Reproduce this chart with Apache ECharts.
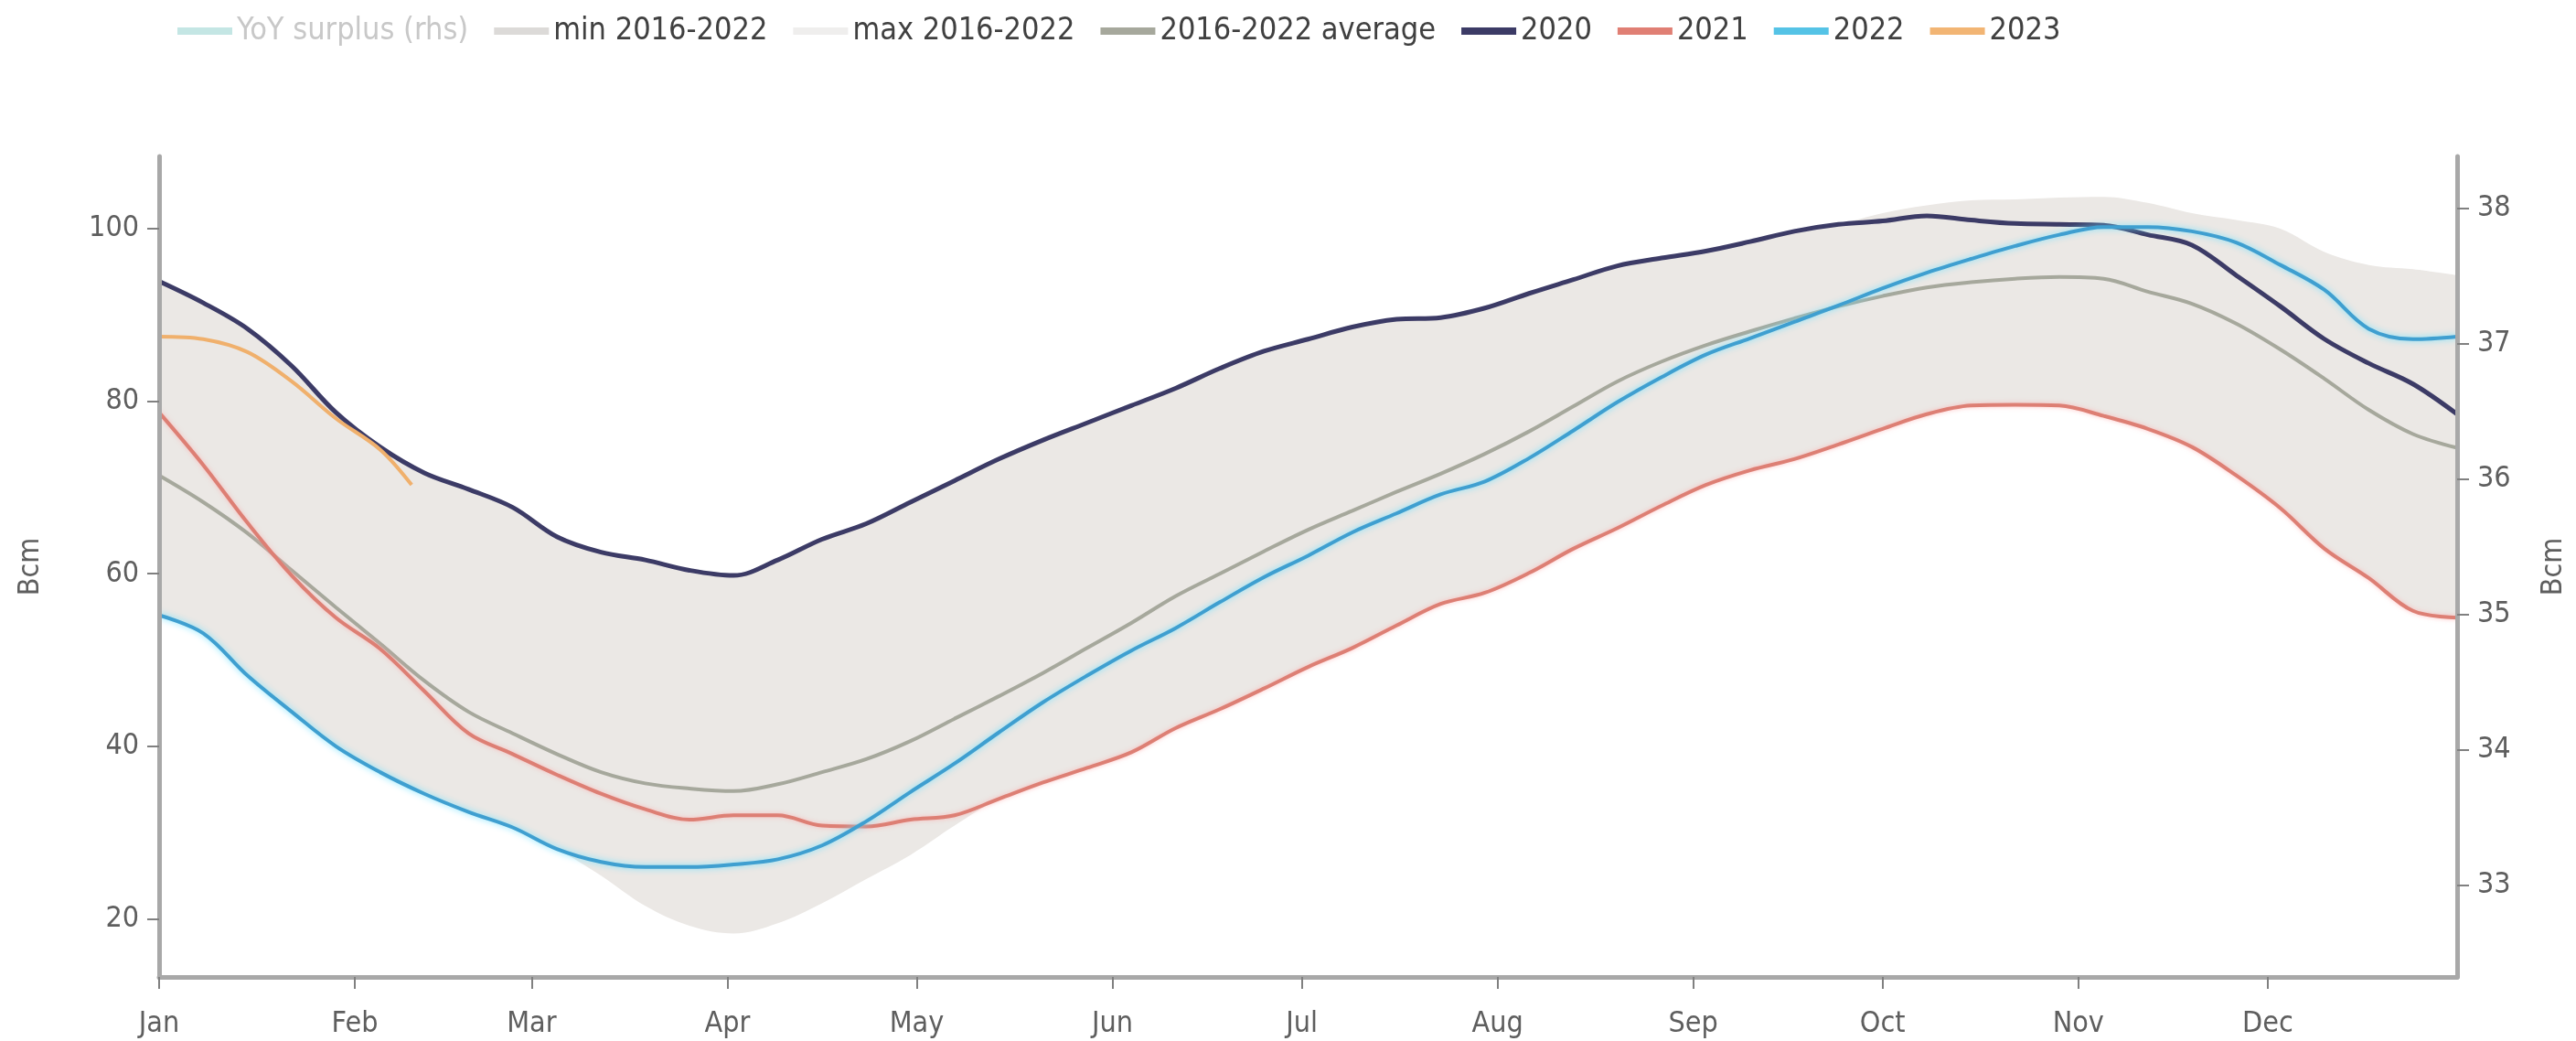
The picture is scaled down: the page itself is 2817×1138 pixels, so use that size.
<!DOCTYPE html>
<html>
<head>
<meta charset="utf-8">
<script src="https://cdn.jsdelivr.net/npm/echarts@6/dist/echarts.min.js"></script>
<style>
html,body{margin:0;padding:0;background:#fff;}
#chart{width:2817px;height:1138px;}
</style>
</head>
<body>
<div id="chart"></div>
<script>
// Day-of-year positions (Jan 1 = 0) of the sampled points
const days = [0,7,14,21,28,35,42,49,56,63,70,77,84,91,98,105,112,119,126,133,140,147,154,161,168,175,182,189,196,203,210,217,224,231,238,245,252,259,266,273,280,287,294,301,308,315,322,329,336,343,350,357,364];
const monthStarts = [0,31,59,90,120,151,181,212,243,273,304,334];
const monthLabels = ['Jan','Feb','Mar','Apr','May','Jun','Jul','Aug','Sep','Oct','Nov','Dec'];
const leftTicks = [20,40,60,80,100];
const rightTicks = [33,34,35,36,37,38];

const band_min = [55.2,53.1,48.2,44.0,40.0,37.0,34.5,32.4,30.6,28.1,25.0,21.5,19.2,18.3,19.5,
  21.8,24.6,27.4,30.8,33.9,35.8,37.5,39.3,42.1,44.3,46.7,49.2,51.4,54.0,56.5,
  57.8,60.1,62.9,65.3,67.9,70.3,72.0,73.3,75.0,76.8,78.5,79.5,79.6,79.5,78.3,
  76.8,74.7,71.4,67.6,62.9,59.5,55.7,54.9];
const band_max = [93.9,91.4,88.4,84.1,78.7,74.7,71.7,69.8,67.7,64.3,62.5,61.6,60.4,59.8,61.6,
  64.0,65.8,68.3,70.8,73.3,75.5,77.5,79.5,81.5,83.8,85.8,87.2,88.6,89.5,89.7,
  90.8,92.5,94.1,95.7,96.6,97.4,98.5,99.7,100.5,101.8,102.7,103.3,103.4,103.6,103.7,
  103.0,101.8,101.0,100.0,97.3,95.8,95.3,94.6];
const avg_2016_2022 = [71.4,68.3,64.7,60.4,56.1,51.9,47.6,44.0,41.5,39.1,37.0,35.7,35.1,34.8,35.6,
  37.0,38.5,40.6,43.2,45.8,48.5,51.4,54.3,57.4,60.0,62.6,65.1,67.3,69.5,71.6,
  73.9,76.5,79.4,82.3,84.6,86.5,88.1,89.6,91.0,92.2,93.2,93.8,94.2,94.4,94.2,
  92.7,91.3,89.0,86.0,82.6,79.0,76.2,74.6];
const y2020 = [93.9,91.4,88.4,84.1,78.7,74.7,71.7,69.8,67.7,64.3,62.5,61.6,60.4,59.8,61.6,
  64.0,65.8,68.3,70.8,73.3,75.5,77.5,79.5,81.5,83.8,85.8,87.2,88.6,89.5,89.7,
  90.8,92.5,94.1,95.7,96.6,97.4,98.5,99.7,100.5,100.9,101.5,101.0,100.6,100.5,100.4,
  99.3,98.1,94.6,91.0,87.2,84.4,82.0,78.5];
const y2021 = [78.7,72.6,65.9,59.8,54.9,51.3,46.4,41.5,39.1,36.7,34.5,32.7,31.5,32.0,32.0,
  30.8,30.7,31.5,32.0,33.9,35.8,37.5,39.3,42.1,44.3,46.7,49.2,51.4,54.0,56.5,
  57.8,60.1,62.9,65.3,67.9,70.3,72.0,73.3,75.0,76.8,78.5,79.5,79.6,79.5,78.3,
  76.8,74.7,71.4,67.6,62.9,59.5,55.7,54.9];
const y2022 = [55.2,53.1,48.2,44.0,40.0,37.0,34.5,32.4,30.6,28.1,26.6,26.0,26.0,26.3,26.9,
  28.5,31.3,34.7,38.0,41.6,45.1,48.2,51.1,53.7,56.7,59.6,62.1,64.8,67.0,69.2,
  70.7,73.4,76.6,79.9,82.8,85.4,87.3,89.2,91.1,93.1,94.9,96.5,98.0,99.3,100.2,
  100.2,99.7,98.4,95.8,92.9,88.4,87.2,87.5];
const days2023 = [0,7,14,21,28,35,40];
const y2023 = [87.5,87.2,85.7,82.3,78.0,74.4,70.3];
// YoY surplus (rhs) is switched off in the reference: no values visible
const yoySurplus = [];

const pairs = (xs, ys) => xs.map((x, i) => [x, ys[i]]);
const FONT = "'Liberation Sans Narrow', 'DejaVu Sans Condensed', 'Open Sans', sans-serif";

const chart = echarts.init(document.getElementById('chart'));
const lineCommon = { type: 'line', symbol: 'none', smooth: 0.35, xAxisIndex: 0, yAxisIndex: 0 };

chart.setOption({
  animation: false,
  backgroundColor: '#ffffff',
  textStyle: { fontFamily: FONT },
  legend: {
    top: 12, left: 189,
    itemWidth: 60, itemHeight: 8, itemGap: 28,
    icon: 'rect',
    textStyle: { fontFamily: FONT, fontSize: 34, color: '#404040' },
    data: [
      { name: 'YoY surplus (rhs)', itemStyle: { color: '#c4e6e4' }, textStyle: { color: '#c8c8c8' } },
      { name: 'min 2016-2022', itemStyle: { color: '#dcdad8' } },
      { name: 'max 2016-2022', itemStyle: { color: '#efeeed' } },
      { name: '2016-2022 average' },
      { name: '2020' }, { name: '2021' }, { name: '2022' }, { name: '2023' }
    ]
  },
  grid: { left: 174, right: 128, top: 171, bottom: 70, containLabel: false },
  xAxis: {
    type: 'value', min: 0, max: 364, z: 10,
    splitLine: { show: false },
    axisLine: { show: true, lineStyle: { color: '#a8a8a8', width: 5 } },
    axisTick: { show: true, customValues: monthStarts, length: 13, lineStyle: { color: '#808080', width: 2 } },
    axisLabel: {
      customValues: monthStarts, margin: 36, fontSize: 32, color: '#5e5e5e', fontFamily: FONT,
      formatter: (v) => monthLabels[monthStarts.indexOf(v)]
    }
  },
  yAxis: [
    {
      type: 'value', min: 13.26, max: 108.38, position: 'left', z: 10,
      name: 'Bcm', nameLocation: 'middle', nameGap: 124, nameRotate: 90,
      nameTextStyle: { fontSize: 32, color: '#5e5e5e', fontFamily: FONT },
      splitLine: { show: false },
      axisLine: { show: true, lineStyle: { color: '#a8a8a8', width: 5 } },
      axisTick: { show: true, customValues: leftTicks, length: 13, lineStyle: { color: '#808080', width: 2 } },
      axisLabel: { customValues: leftTicks, margin: 22, fontSize: 32, color: '#5e5e5e', fontFamily: FONT }
    },
    {
      type: 'value', min: 32.324, max: 38.385, position: 'right', z: 10,
      name: 'Bcm', nameLocation: 'middle', nameGap: 90, nameRotate: 90,
      nameTextStyle: { fontSize: 32, color: '#5e5e5e', fontFamily: FONT },
      splitLine: { show: false },
      axisLine: { show: true, lineStyle: { color: '#a8a8a8', width: 5 } },
      axisTick: { show: true, customValues: rightTicks, length: 13, lineStyle: { color: '#808080', width: 2 } },
      axisLabel: { customValues: rightTicks, margin: 22, fontSize: 32, color: '#5e5e5e', fontFamily: FONT }
    }
  ],
  series: [
    {
      name: 'YoY surplus (rhs)', type: 'line', symbol: 'none', yAxisIndex: 1,
      itemStyle: { color: '#c4e6e4' }, lineStyle: { color: '#8fd0cc', width: 3 },
      data: yoySurplus
    },
    {
      // upper envelope: shaded down to the axis
      ...lineCommon, name: 'max 2016-2022', z: 1,
      itemStyle: { color: '#efeeed' },
      lineStyle: { width: 0, opacity: 0 },
      areaStyle: { color: '#ebe8e5', opacity: 1, origin: 'start' },
      data: pairs(days, band_max)
    },
    {
      // lower envelope: clears the shading below the minimum
      ...lineCommon, name: 'min 2016-2022', z: 1.5,
      itemStyle: { color: '#dcdad8' },
      lineStyle: { width: 0, opacity: 0 },
      areaStyle: { color: '#ffffff', opacity: 1, origin: 'start' },
      data: pairs(days, band_min)
    },
    {
      ...lineCommon, name: '2016-2022 average', z: 3,
      itemStyle: { color: '#a6a89c' },
      lineStyle: { color: '#a6a89c', width: 4 },
      data: pairs(days, avg_2016_2022)
    },
    {
      ...lineCommon, name: '2020', z: 4,
      itemStyle: { color: '#3c3b66' },
      lineStyle: { color: '#3c3b66', width: 5 },
      data: pairs(days, y2020)
    },
    {
      ...lineCommon, name: '2021', z: 4,
      itemStyle: { color: '#e07f74' },
      lineStyle: { color: '#dd7f74', width: 4, shadowColor: 'rgba(255,170,170,0.7)', shadowBlur: 5 },
      data: pairs(days, y2021)
    },
    {
      ...lineCommon, name: '2022', z: 5,
      itemStyle: { color: '#55c3e6' },
      lineStyle: { color: '#3f9fd0', width: 4, shadowColor: 'rgba(110,225,255,0.9)', shadowBlur: 7 },
      data: pairs(days, y2022)
    },
    {
      ...lineCommon, name: '2023', z: 5,
      itemStyle: { color: '#f2b574' },
      lineStyle: { color: '#f0b06c', width: 4 },
      data: pairs(days2023, y2023)
    }
  ]
});
</script>
</body>
</html>
